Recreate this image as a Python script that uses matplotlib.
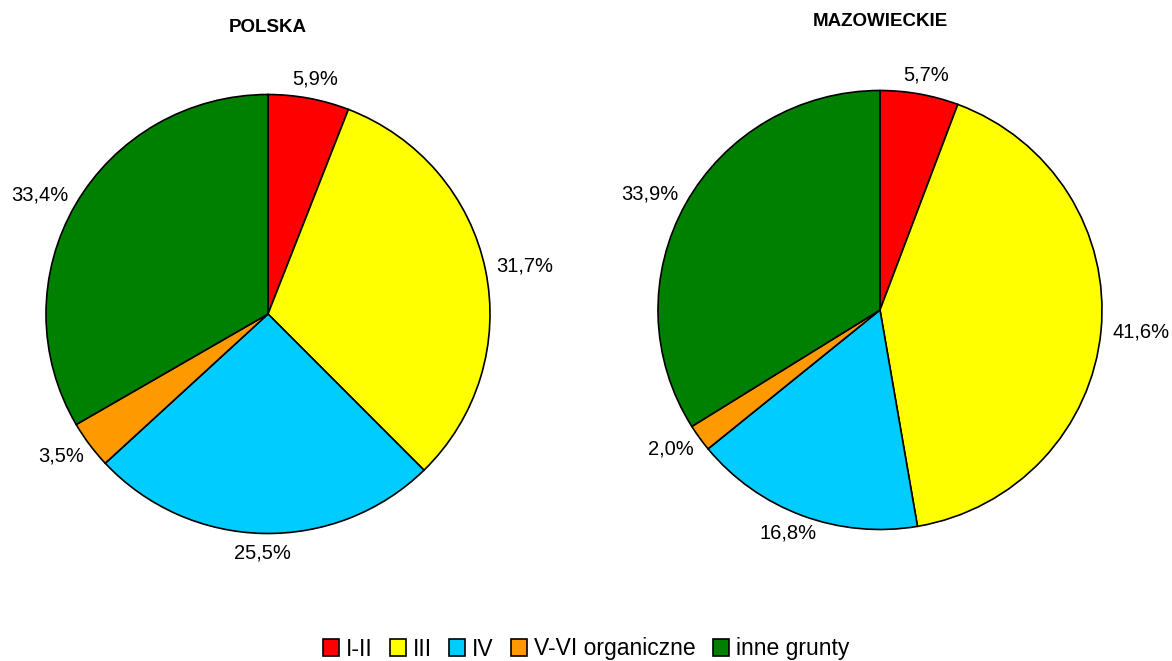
import numpy as np
import matplotlib
matplotlib.use("Agg")
import matplotlib.pyplot as plt
from matplotlib.patches import Patch

plt.rcParams["font.family"] = ["Liberation Sans", "DejaVu Sans"]

categories = ["I-II", "III", "IV", "V-VI organiczne", "inne grunty"]
colors = ["#FF0000", "#FFFF00", "#00CCFF", "#FF9900", "#008000"]
polska = [5.9, 31.7, 25.5, 3.5, 33.4]
mazowieckie = [5.7, 41.6, 16.8, 2.0, 33.9]
titles = ["POLSKA", "MAZOWIECKIE"]

W, H = 1172, 661
fig = plt.figure(figsize=(W / 100, H / 100), dpi=100)
renderer = fig.canvas.get_renderer()

# pie centres and radii in pixels (the original is a touch squashed vertically)
centres = [(268, 314), (880, 310)]
RX, RY = 222, 219.5
GAP = 12  # px between rim and label box
title_y = [28, 22]


def fmt(v):
    return f"{v:.1f}%".replace(".", ",")


for (cx, cy), vals, title, ty in zip(centres, [polska, mazowieckie], titles, title_y):
    ax = fig.add_axes([(cx - RX) / W, 1 - (cy + RY) / H, 2 * RX / W, 2 * RY / H])
    wedges, _ = ax.pie(vals, colors=colors, startangle=90, counterclock=False, radius=1,
                       wedgeprops=dict(edgecolor="black", linewidth=1.2))
    ax.set_xlim(-1, 1); ax.set_ylim(-1, 1)
    ax.set_aspect("auto")
    ax.axis("off")
    # labels outside the rim, box pushed outward along the radial direction
    for wd, v in zip(wedges, vals):
        ang = np.deg2rad((wd.theta1 + wd.theta2) / 2)
        c, s = np.cos(ang), np.sin(ang)
        t = fig.text(0, 0, fmt(v), fontsize=14.5, ha="center", va="center")
        bb = t.get_window_extent(renderer)
        w, h = bb.width, bb.height * 0.75
        px = cx + (RX + GAP) * c + w / 2 * c
        py = cy - (RY + GAP) * s - h / 2 * s
        t.set_position((px / W, 1 - py / H))
    fig.text(cx / W, 1 - ty / H, title, ha="center", va="center",
             fontsize=13.5, fontweight="bold")

handles = [Patch(facecolor=c, edgecolor="black", linewidth=1.2) for c in colors]
fig.legend(handles, categories, loc="center", bbox_to_anchor=(0.5, 1 - 649 / H),
           ncol=5, frameon=False, fontsize=16.5, handlelength=0.7, handleheight=0.7,
           handletextpad=0.3, columnspacing=0.75, borderpad=0)

fig.savefig("out.png", dpi=100)
